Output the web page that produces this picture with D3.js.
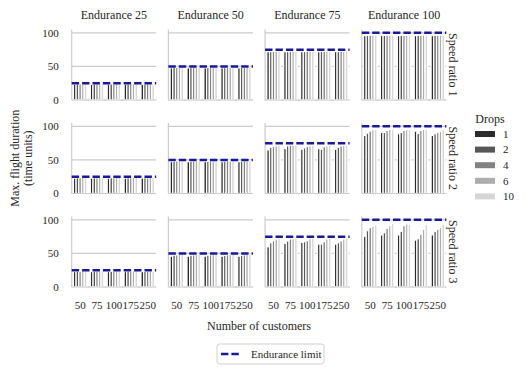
<!DOCTYPE html>
<html>
<head>
<meta charset="utf-8">
<script src="https://cdn.jsdelivr.net/npm/d3@7"></script>
<style>
  body { margin: 0; background: #fff; }
</style>
</head>
<body>
<script>
// categories
var customers = ["50", "75", "100", "175", "250"];
var drops = ["1", "2", "4", "6", "10"];
var endurances = [25, 50, 75, 100];
var speedRatios = [1, 2, 3];
var yTicks = [0, 50, 100];

// max flight duration, one panel per endurance; rows = customers, cols = drops
var speed1 = [
  [[23.5, 24, 24, 24, 24.2], [23.5, 24, 24, 24, 24.2], [23.5, 24, 24, 24, 24.2], [23.5, 24, 24, 24, 24.2], [23.5, 24, 24, 24, 24.2]],
  [[48, 48.5, 48.5, 48.5, 48.7], [48, 48.5, 48.5, 48.7, 48.7], [48, 48.5, 48.5, 48.5, 48.7], [48, 48.3, 48.5, 48.5, 48.7], [48, 48.5, 48.5, 48.7, 48.7]],
  [[72, 72.3, 72.5, 72.5, 72.7], [72, 72.3, 72.5, 72.5, 72.7], [72, 72.3, 72.5, 72.5, 72.7], [72, 72.3, 72.5, 72.5, 72.7], [72, 72.3, 72.5, 72.5, 72.7]],
  [[96, 96.5, 96.5, 96.8, 97], [96, 96.5, 96.5, 96.8, 97], [96, 96.5, 96.5, 96.8, 97], [96, 96.5, 96.5, 96.8, 97], [96, 96.5, 96.5, 96.8, 97]]
];
var speed2 = [
  [[23, 23.5, 23.5, 24, 24], [23, 23.5, 23.5, 24, 24], [23, 23.5, 23.5, 24, 24], [23, 23.5, 23.5, 24, 24], [23, 23.5, 23.5, 24, 24]],
  [[47.5, 48, 48.5, 48.5, 48.7], [47.5, 48, 48.5, 48.5, 48.7], [47.5, 48, 48.5, 48.5, 48.7], [47.5, 48, 48.5, 48.5, 48.7], [47.5, 48, 48.5, 48.5, 48.7]],
  [[65, 69, 70, 71, 72], [67, 71, 72, 72, 72.5], [66, 68, 70, 71, 72], [67, 66, 70, 71, 72], [66, 69, 71, 72, 72.5]],
  [[86.5, 90, 93, 95, 95.5], [91, 91, 94, 95.5, 95.5], [89, 91, 94, 95, 95.5], [93, 89.5, 94, 95.5, 95.5], [86.5, 89, 91, 93, 95.5]]
];
var speed3 = [
  [[23, 23.5, 23.5, 24, 24], [23, 23.5, 23.5, 24, 24], [23, 23.5, 23.5, 24, 24], [23, 23.5, 23.5, 24, 24], [23, 23.5, 23.5, 24, 24]],
  [[46, 47.5, 48, 48.5, 48.7], [46, 47.5, 48, 48.5, 48.7], [46, 47.5, 48, 48.5, 48.7], [46, 47, 48, 48.5, 48.7], [46, 47.5, 48, 48.5, 48.7]],
  [[60, 66, 69, 71.6, 72.6], [65, 68.6, 71.6, 72, 72.6], [66.6, 67.6, 69, 72, 72.6], [64, 64, 67.6, 71.6, 72.6], [64, 66, 69, 71.6, 72.6]],
  [[75.7, 84, 88.5, 90.5, 92.5], [77.6, 81, 87.5, 91.5, 94.5], [77.6, 83, 91.5, 94, 93.5], [70, 72, 78.6, 86, 93.6], [77.6, 83, 86, 88.5, 94]]
];
var panels = [speed1, speed2, speed3];
var dropColors = ["#2b2b2b", "#575757", "#828282", "#adadad", "#d6d6d6"];

var width = 529, height = 374;
var pw = 84.5, ph = 70.5;
var colLeft = [71.7, 168.4, 265.1, 361.8];
var rowTop = [29.5, 123, 216.5];
var serif = "Liberation Serif";

var svg = d3.select("body").append("svg")
    .attr("width", width)
    .attr("height", height);

var x = d3.scaleBand().domain(customers).range([0, pw]).paddingInner(0.2).paddingOuter(0.1);
var xDrop = d3.scaleBand().domain(drops).range([0, x.bandwidth()]);
var y = d3.scaleLinear().domain([0, 105]).range([ph, 0]);
var color = d3.scaleOrdinal().domain(drops).range(dropColors);

speedRatios.forEach(function(sr, r) {
  endurances.forEach(function(en, c) {
    var g = svg.append("g")
        .attr("transform", "translate(" + colLeft[c] + "," + rowTop[r] + ")");

    // grid
    g.selectAll("line.grid")
      .data(yTicks)
      .enter().append("line")
        .attr("x1", 0).attr("x2", pw)
        .attr("y1", function(d) { return y(d); })
        .attr("y2", function(d) { return y(d); })
        .attr("stroke", "#cccccc")
        .attr("stroke-width", 1.2);

    // bars, drawn hue by hue
    var vals = panels[r][c];
    drops.forEach(function(dr, k) {
      g.selectAll("rect.d" + k)
        .data(customers)
        .enter().append("rect")
          .attr("x", function(cu) { return x(cu) + xDrop(dr); })
          .attr("y", function(cu, i) { return y(vals[i][k]); })
          .attr("width", xDrop.bandwidth())
          .attr("height", function(cu, i) { return y(0) - y(vals[i][k]); })
          .attr("fill", color(dr))
          .attr("stroke", "#fff")
          .attr("stroke-width", 1.3);
    });

    // spines
    g.append("line").attr("x1", 0).attr("x2", 0).attr("y1", 0).attr("y2", ph)
      .attr("stroke", "#cccccc").attr("stroke-width", 1.2);
    g.append("line").attr("x1", 0).attr("x2", pw).attr("y1", ph).attr("y2", ph)
      .attr("stroke", "#cccccc").attr("stroke-width", 1.2);

    // endurance limit
    g.append("line")
      .attr("x1", 0).attr("x2", pw)
      .attr("y1", y(en)).attr("y2", y(en))
      .attr("stroke", "#1a1a96")
      .attr("stroke-width", 2.5)
      .attr("stroke-dasharray", "7.4,3");

    if (c === 0) {
      g.selectAll("text.yt")
        .data(yTicks)
        .enter().append("text")
          .attr("x", -13)
          .attr("y", function(d) { return y(d); })
          .attr("dy", "0.35em")
          .attr("text-anchor", "end")
          .attr("font-size", 11)
          .text(function(d) { return d; });
    }
    if (r === 2) {
      g.selectAll("text.xt")
        .data(customers)
        .enter().append("text")
          .attr("x", function(d) { return x(d) + x.bandwidth() / 2; })
          .attr("y", ph + 18)
          .attr("dy", "0.35em")
          .attr("text-anchor", "middle")
          .attr("font-size", 11)
          .text(function(d) { return d; });
    }
    if (r === 0) {
      g.append("text")
        .attr("x", pw / 2)
        .attr("y", -14.5)
        .attr("dy", "0.35em")
        .attr("text-anchor", "middle")
        .attr("font-size", 12)
        .text("Endurance " + en);
    }
    if (c === 3) {
      g.append("text")
        .attr("transform", "translate(" + (pw + 7) + "," + (ph / 2) + ") rotate(90)")
        .attr("dy", "0.35em")
        .attr("text-anchor", "middle")
        .attr("font-size", 12)
        .text("Speed ratio " + sr);
    }
  });
});

// axis labels
var yMid = (rowTop[0] + rowTop[2] + ph) / 2;
svg.append("text")
  .attr("transform", "translate(15," + yMid + ") rotate(-90)")
  .attr("dy", "0.35em")
  .attr("text-anchor", "middle")
  .attr("font-size", 12)
  .text("Max. flight duration");
svg.append("text")
  .attr("transform", "translate(28," + yMid + ") rotate(-90)")
  .attr("dy", "0.35em")
  .attr("text-anchor", "middle")
  .attr("font-size", 12)
  .text("(time units)");
svg.append("text")
  .attr("x", (colLeft[0] + colLeft[3] + pw) / 2)
  .attr("y", 326)
  .attr("dy", "0.35em")
  .attr("text-anchor", "middle")
  .attr("font-size", 12)
  .text("Number of customers");

// drops legend
var leg = svg.append("g").attr("transform", "translate(475,119)");
leg.append("text")
  .attr("x", 15).attr("y", 0).attr("dy", "0.35em")
  .attr("text-anchor", "middle")
  .attr("font-size", 12)
  .text("Drops");
var item = leg.selectAll("g.item")
  .data(drops)
  .enter().append("g")
    .attr("transform", function(d, i) { return "translate(0," + (15 + i * 15.6) + ")"; });
item.append("rect")
  .attr("x", 0).attr("y", -3).attr("width", 20).attr("height", 6)
  .attr("fill", function(d) { return color(d); });
item.append("text")
  .attr("x", 28).attr("dy", "0.35em")
  .attr("font-size", 11)
  .text(function(d) { return d; });

// endurance limit legend
var leg2 = svg.append("g").attr("transform", "translate(217,344)");
leg2.append("rect")
  .attr("x", 0).attr("y", 0).attr("width", 107).attr("height", 20).attr("rx", 2.5)
  .attr("fill", "#fff").attr("stroke", "#d0d0d0");
leg2.append("line")
  .attr("x1", 4).attr("x2", 23).attr("y1", 10).attr("y2", 10)
  .attr("stroke", "#1a1a96").attr("stroke-width", 2.5)
  .attr("stroke-dasharray", "7.4,3");
leg2.append("text")
  .attr("x", 34).attr("y", 10).attr("dy", "0.35em")
  .attr("font-size", 11)
  .text("Endurance limit");

// every label in a Times-like face
svg.selectAll("text")
  .attr("font-family", serif)
  .attr("fill", "#262626");
</script>
</body>
</html>
